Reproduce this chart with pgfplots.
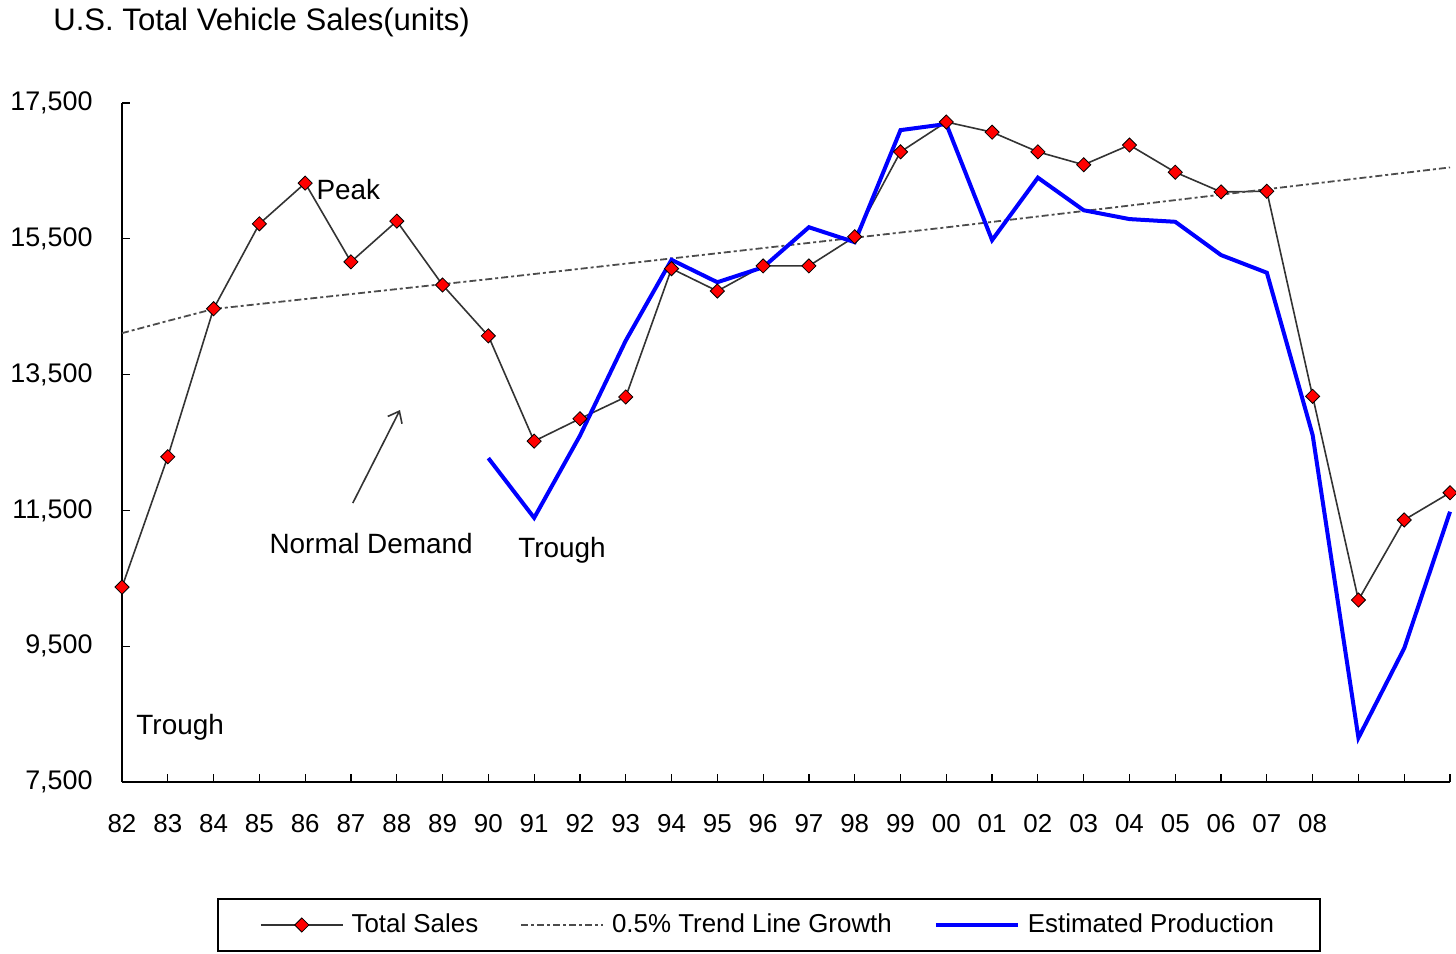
\documentclass[border=0pt]{standalone}
\usepackage{fontspec}
\setmainfont{Liberation Sans}
\usepackage{pgfplots}
\pgfplotsset{compat=1.18}
\usetikzlibrary{arrows.meta}
\pgfplotstableread{
x y
82 10370
83 12290
84 14470
85 15720
86 16320
87 15160
88 15760
89 14820
90 14070
91 12520
92 12850
93 13170
94 15060
95 14730
96 15100
97 15100
98 15530
99 16780
100 17220
101 17070
102 16780
103 16590
104 16880
105 16480
106 16190
107 16200
108 13180
109 10180
110 11360
111 11760
}\sales
\pgfplotstableread{
x y
82 14110
83 14290
84 14466
90 14905
100 15668
111 16551
}\trend
\pgfplotstableread{
x y
90 12270
91 11390
92 12600
93 14000
94 15190
95 14860
96 15080
97 15670
98 15450
99 17100
100 17190
101 15480
102 16400
103 15920
104 15790
105 15750
106 15260
107 15000
108 12610
109 8150
110 9470
111 11480
}\prod
\begin{document}
\begin{tikzpicture}[x=1bp,y=1bp]
\useasboundingbox (0,0) rectangle (728,477);
\node[anchor=west,inner sep=0pt,font=\fontsize{15.6}{18}\selectfont] at (26.5,466) {U.S. Total Vehicle Sales(units)};
\begin{axis}[
  at={(61bp,86bp)}, anchor=south west,
  scale only axis, width=664bp, height=339.5bp,
  xmin=82, xmax=111, ymin=7500, ymax=17500,
  axis x line=bottom, axis y line=left,
  axis line style={-, line width=1bp, black},
  xtick={82,...,111},
  xticklabels={82,83,84,85,86,87,88,89,90,91,92,93,94,95,96,97,98,99,00,01,02,03,04,05,06,07,08,{},{},{}},
  ytick={7500,9500,11500,13500,15500,17500},
  tick align=inside, major tick length=4bp,
  tick style={black, line width=0.6bp},
  /pgf/number format/assume math mode=true,
  /pgf/number format/1000 sep={,},
  scaled y ticks=false,
  yticklabel style={inner sep=0pt, xshift=-14.5bp, font=\fontsize{13.5}{16}\selectfont},
  xticklabel style={inner sep=0pt, yshift=-16bp, font=\fontsize{13}{15}\selectfont},
  clip=false,
  legend columns=3,
  legend cell align=left,
  legend style={at={(0.4872,-0.2106)}, anchor=center, draw=black, line width=1bp,
    fill=white,
    font=\fontsize{13}{15}\selectfont, inner xsep=21bp, inner ysep=5.5bp,
    /tikz/every even column/.append style={column sep=19bp},
    /tikz/every odd column/.append style={column sep=2bp}},
  legend image code/.code={\draw[mark repeat=2,mark phase=2,#1] plot coordinates {(0bp,0bp) (20.5bp,0bp) (41bp,0bp)};},
]
\addplot[color=black!80, line width=0.8bp, mark=square*, mark size=2.5bp,
  mark options={rotate=45, fill=red, draw=black, line width=0.4bp, solid}] table[x=x,y=y] {\sales};
\addlegendentry{Total Sales}
\addplot[color=black!70, line width=0.9bp, dash pattern=on 3.5bp off 1.5bp on 1.5bp off 1.5bp] table[x=x,y=y] {\trend};
\addlegendentry{0.5\% Trend Line Growth}
\addplot[color=blue, line width=2bp] table[x=x,y=y] {\prod};
\addlegendentry{Estimated Production}
\node[anchor=west, inner sep=0pt, font=\fontsize{14}{16}\selectfont] at (axis cs:86.24,16219) {Peak};
\node[inner sep=0pt, font=\fontsize{14}{16}\selectfont] at (axis cs:87.44,11019) {Normal Demand};
\node[inner sep=0pt, font=\fontsize{14}{16}\selectfont] at (axis cs:91.61,10916) {Trough};
\node[inner sep=0pt, font=\fontsize{14}{16}\selectfont] at (axis cs:83.27,8309) {Trough};
\draw[-{Straight Barb[length=5bp,width=8bp]}, line width=0.8bp, black!80] (axis cs:87.04,11608) -- (axis cs:88.07,12978);
\end{axis}
\end{tikzpicture}
\end{document}
